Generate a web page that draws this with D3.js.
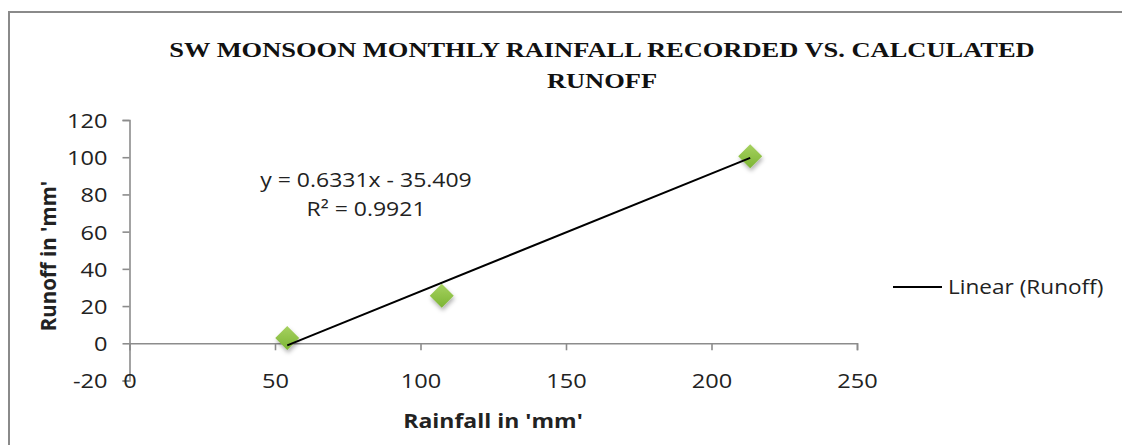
<!DOCTYPE html>
<html>
<head>
<meta charset="utf-8">
<script src="https://cdn.jsdelivr.net/npm/d3@7"></script>
<style>
  html, body { margin: 0; padding: 0; background: #fff; }
  svg { display: block; }
</style>
</head>
<body>
<svg id="chart" width="1122" height="445"></svg>
<script>
// ---- data ----
const rainfall = [54.2, 107.3, 213.3];     // x values (mm)
const runoff   = [2.8, 25.5, 100.5];       // y values (mm)
const xTicks = [0, 50, 100, 150, 200, 250];
const yTicks = [-20, 0, 20, 40, 60, 80, 100, 120];
const trendSlope = 0.6331;
const trendIntercept = -35.409;
const titleLines = ["SW MONSOON MONTHLY RAINFALL RECORDED VS. CALCULATED", "RUNOFF"];
const eqLines = ["y = 0.6331x - 35.409", "R² = 0.9921"];
const xTitle = "Rainfall in 'mm'";
const yTitle = "Runoff in 'mm'";
const legendLabel = "Linear (Runoff)";

const svg = d3.select("#chart");
const FONT = "'Open Sans', 'DejaVu Sans', sans-serif";
const SX = 1.15; // horizontal stretch seen in reference text

// outer border
svg.append("rect").attr("x", 9).attr("y", 12).attr("width", 1130).attr("height", 450)
  .attr("fill", "none").attr("stroke", "#8a8a8a").attr("stroke-width", 2);

const x = d3.scaleLinear().domain([0, 250]).range([129.5, 857]);
const y = d3.scaleLinear().domain([-20, 120]).range([380.5, 120]);

// title
titleLines.forEach((t, i) => {
  svg.append("text").attr("text-anchor", "middle")
    .attr("transform", `translate(602,${57 + i * 31}) scale(1.26,1)`)
    .attr("font-family", "'Liberation Serif', 'Times New Roman', serif")
    .attr("font-weight", "bold").attr("font-size", 21).attr("fill", "#111").text(t);
});

// axes
const axisColor = "#8c8c8c";
const yAxis = svg.append("g").attr("transform", `translate(${x(0)},0)`)
  .call(d3.axisLeft(y).tickValues(yTicks).tickSize(7).tickPadding(11).tickFormat(d => String(d)));
const xAxis = svg.append("g").attr("transform", `translate(0,${y(0)})`)
  .call(d3.axisBottom(x).tickValues(xTicks).tickSize(7).tickPadding(0).tickFormat(d => String(d)));
xAxis.selectAll("text").attr("y", 0).attr("dy", "0").attr("transform", null);

[yAxis, xAxis].forEach(g => {
  g.select(".domain").attr("stroke", axisColor).attr("stroke-width", 1.6);
  g.selectAll(".tick line").attr("stroke", axisColor).attr("stroke-width", 1.6);
  g.selectAll("text").attr("font-family", FONT).attr("font-size", 20.5).attr("fill", "#222");
});
yAxis.selectAll(".tick text").attr("x", 0).attr("dy", "0.36em")
  .attr("transform", `translate(-22,0) scale(${SX},1)`);
xAxis.selectAll(".tick text").attr("transform", `translate(0,45) scale(${SX},1)`);

// trendline
const xMin = d3.min(rainfall), xMax = d3.max(rainfall);

// markers (diamonds) with soft shadow
const defs = svg.append("defs");
const grad = defs.append("linearGradient").attr("id", "gm").attr("x1", 0).attr("y1", 0).attr("x2", 0).attr("y2", 1);
grad.append("stop").attr("offset", "0%").attr("stop-color", "#a6d160");
grad.append("stop").attr("offset", "100%").attr("stop-color", "#7cb534");
const flt = defs.append("filter").attr("id", "sh").attr("x", "-50%").attr("y", "-50%").attr("width", "200%").attr("height", "200%");
flt.append("feDropShadow").attr("dx", 1).attr("dy", 3).attr("stdDeviation", 2).attr("flood-color", "#000").attr("flood-opacity", 0.3);

const pts = rainfall.map((d, i) => [d, runoff[i]]);
const diamond = "M0,-12L12,0L0,12L-12,0Z";
svg.append("g").selectAll("path").data(pts).join("path")
  .attr("d", diamond)
  .attr("transform", d => `translate(${x(d[0])},${y(d[1])})`)
  .attr("fill", "url(#gm)").attr("filter", "url(#sh)");

// trendline over markers (as in reference)
svg.append("line")
  .attr("x1", x(xMin)).attr("y1", y(trendSlope * xMin + trendIntercept))
  .attr("x2", x(xMax)).attr("y2", y(trendSlope * xMax + trendIntercept))
  .attr("stroke", "#000").attr("stroke-width", 2);

// equation
eqLines.forEach((t, i) => {
  svg.append("text").attr("text-anchor", "middle")
    .attr("transform", `translate(${366},${187 + i * 29}) scale(${SX},1)`)
    .attr("font-family", FONT).attr("font-size", 20).attr("fill", "#222").text(t);
});

// axis titles
svg.append("text").attr("text-anchor", "middle")
  .attr("transform", `translate(493,428) scale(${SX},1)`)
  .attr("font-family", FONT).attr("font-weight", "bold").attr("font-size", 20).attr("fill", "#222")
  .text(xTitle);
svg.append("text").attr("text-anchor", "middle")
  .attr("transform", `translate(56,256) rotate(-90)`)
  .attr("font-family", FONT).attr("font-weight", "bold").attr("font-size", 20.5).attr("fill", "#222")
  .text(yTitle);

// legend
svg.append("line").attr("x1", 893).attr("x2", 942).attr("y1", 287).attr("y2", 287)
  .attr("stroke", "#000").attr("stroke-width", 2);
svg.append("text").attr("transform", `translate(948,294) scale(1.13,1)`)
  .attr("font-family", FONT).attr("font-size", 20).attr("fill", "#222").text(legendLabel);
</script>
</body>
</html>
